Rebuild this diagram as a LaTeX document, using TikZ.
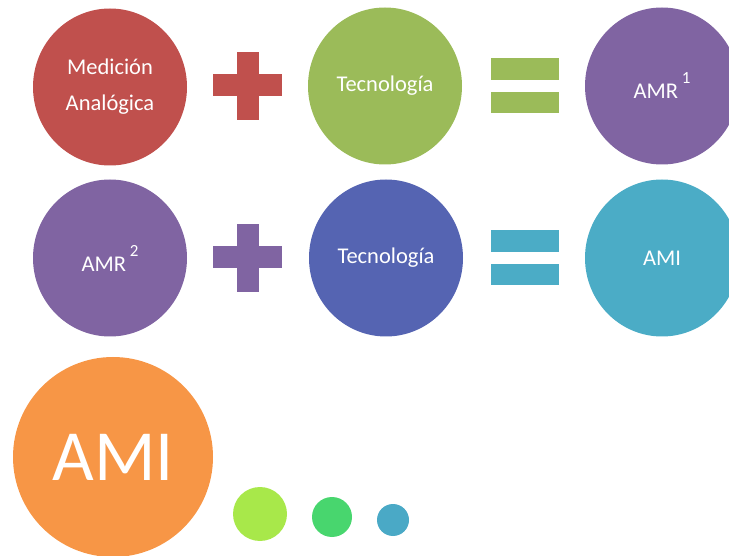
\documentclass[tikz,border=0pt]{standalone}
\usepackage{fontspec}
\setmainfont{Carlito}
\usetikzlibrary{positioning,shapes.geometric}
\definecolor{medred}{HTML}{C0504D}
\definecolor{grass}{HTML}{9BBB59}
\definecolor{plum}{HTML}{8064A2}
\definecolor{indigo}{HTML}{5564B2}
\definecolor{teal}{HTML}{4BACC6}
\definecolor{tangerine}{HTML}{F79646}
\definecolor{lime}{HTML}{A8E84A}
\definecolor{mint}{HTML}{48D66E}
\definecolor{sea}{HTML}{4AA9C6}

\begin{document}
\begin{tikzpicture}[x=1pt,y=-1pt,
		bubble/.style={ellipse,fill=#1,minimum width=154pt,minimum height=157pt,
			inner sep=0pt,text=white,align=center,font=\fontsize{22.5}{36}\selectfont},
		dot/.style={circle,fill=#1,inner sep=0pt}]
		
		\clip (0,0) rectangle (729,556);
		
		% first row
		\node[bubble=medred] (medicion) at (110,87) {Medición\\Analógica};
		\node[bubble=grass] (tecnoA) at (385,86) {Tecnología};
		\node[bubble=plum] (amrA) at (662,86)
		{AMR\,\raisebox{15pt}{\fontsize{17}{17}\selectfont 1}};
		
		% second row
		\node[bubble=plum] (amrB) at (110,258)
		{AMR\,\raisebox{15pt}{\fontsize{17}{17}\selectfont 2}};
		\node[bubble=indigo] (tecnoB) at (386,258) {Tecnología};
		\node[bubble=teal] (amiA) at (662,258) {AMI};
		
		% plus and equals signs
		\foreach \y/\pc/\ec in {86/medred/grass, 258/plum/teal}
		{
			\fill[\pc] (237,\y-34) rectangle (259,\y+34);
			\fill[\pc] (213,\y-12) rectangle (282,\y+10);
			\fill[\ec] (491,\y-28) rectangle (559,\y-6);
			\fill[\ec] (491,\y+6) rectangle (559,\y+27);
		}
		
		% result
		\node[circle,fill=tangerine,minimum size=200pt,inner sep=0pt,
		text=white,font=\fontsize{72}{72}\selectfont] (amiB) at (113,457) {AMI};
		
		\node[dot=lime,minimum size=54pt] (dotA) at (260,514) {};
		\node[dot=mint,minimum size=40pt] (dotB) at (332,517) {};
		\node[dot=sea,minimum size=32pt] (dotC) at (393,520) {};
		
	\end{tikzpicture}
\end{document}
